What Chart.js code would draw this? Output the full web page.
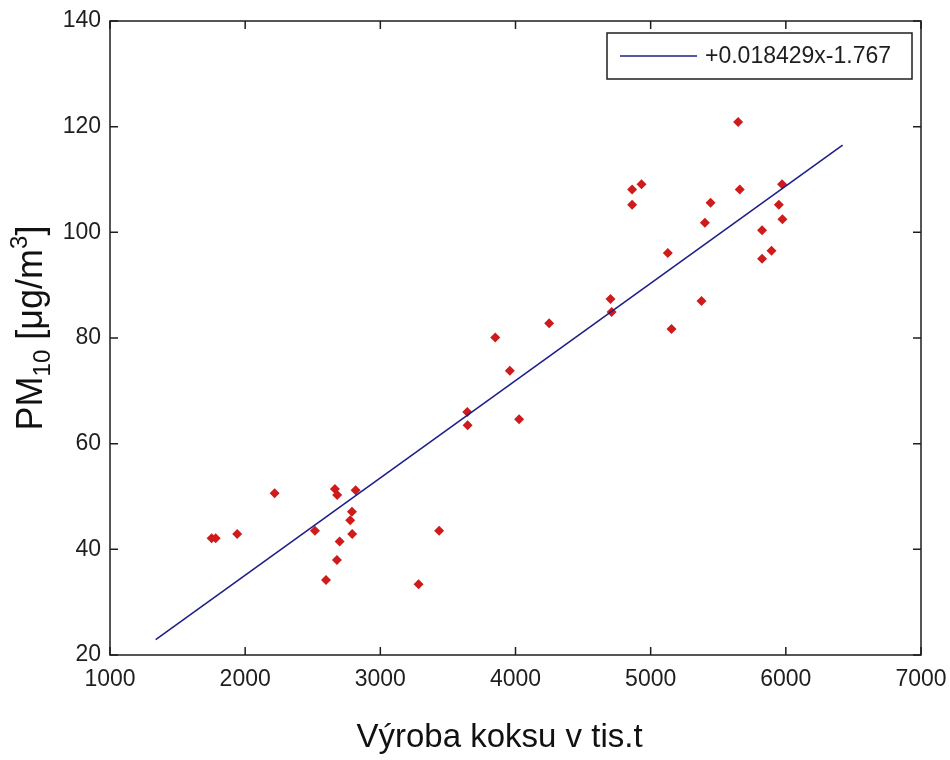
<!DOCTYPE html>
<html>
<head>
<meta charset="utf-8">
<title>PM10 vs. výroba koksu</title>
<script src="https://cdn.jsdelivr.net/npm/chart.js@4/dist/chart.umd.min.js"></script>
<style>
  html, body { margin: 0; padding: 0; background: #fff; }
  #wrap { width: 950px; height: 760px; }
</style>
</head>
<body>
<div id="wrap"><canvas id="chart" width="950" height="760"></canvas></div>
<script>
// ── Data ───────────────────────────────────────────────────────
const prodX = [1752, 1782, 1941, 2218, 2516, 2598, 2664, 2681, 2679, 2699,
  2777, 2790, 2792, 2817, 3283, 3435, 3643, 3646, 3850, 3958,
  4027, 4249, 4703, 4711, 4863, 4863, 4932, 5127, 5154, 5376,
  5401, 5443, 5647, 5659, 5824, 5824, 5894, 5948, 5972, 5975];
const pm10Y = [42.1, 42.1, 42.9, 50.6, 43.5, 34.2, 51.4, 50.3, 38.0, 41.5,
  45.5, 47.1, 42.9, 51.2, 33.4, 43.5, 66.0, 63.5, 80.1, 73.8,
  64.6, 82.8, 87.4, 84.9, 108.1, 105.2, 109.1, 96.1, 81.7, 87.0,
  101.8, 105.6, 120.9, 108.1, 100.4, 95.0, 96.5, 105.2, 109.1, 102.5];

// regression line end points (from legend: +0.018429x-1.767)
const fitX = [1338, 6420];
const fitY = [22.9, 116.5];
const fitLabel = '+0.018429x-1.767';

const xTicks = [1000, 2000, 3000, 4000, 5000, 6000, 7000];
const yTicks = [20, 40, 60, 80, 100, 120, 140];

const xTitle = 'Výroba koksu v tis.t';

// ── Helpers ────────────────────────────────────────────────────
const FONT = '"Liberation Sans", Arial, sans-serif';
const INK = '#1e1e1e';

// box + inward ticks on all four sides (MATLAB look)
const boxPlugin = {
  id: 'box',
  afterDraw(chart) {
    const { ctx, chartArea: a, scales } = chart;
    const len = 8;
    ctx.save();
    ctx.strokeStyle = INK;
    ctx.lineWidth = 1.5;
    ctx.strokeRect(a.left, a.top, a.right - a.left, a.bottom - a.top);
    ctx.beginPath();
    xTicks.forEach(v => {
      const px = scales.x.getPixelForValue(v);
      ctx.moveTo(px, a.bottom); ctx.lineTo(px, a.bottom - len);
      ctx.moveTo(px, a.top); ctx.lineTo(px, a.top + len);
    });
    yTicks.forEach(v => {
      const py = scales.y.getPixelForValue(v);
      ctx.moveTo(a.left, py); ctx.lineTo(a.left + len, py);
      ctx.moveTo(a.right, py); ctx.lineTo(a.right - len, py);
    });
    ctx.stroke();
    ctx.restore();
  },
};

// legend box in the top-right corner
const legendPlugin = {
  id: 'boxLegend',
  afterDraw(chart) {
    const { ctx } = chart;
    const ds = chart.data.datasets[0];
    const x0 = 607, y0 = 33, w = 305, h = 46;
    ctx.save();
    ctx.fillStyle = '#fff';
    ctx.fillRect(x0, y0, w, h);
    ctx.strokeStyle = INK;
    ctx.lineWidth = 1.5;
    ctx.strokeRect(x0, y0, w, h);
    ctx.strokeStyle = ds.borderColor;
    ctx.lineWidth = ds.borderWidth;
    ctx.beginPath();
    ctx.moveTo(620, y0 + h / 2);
    ctx.lineTo(697, y0 + h / 2);
    ctx.stroke();
    ctx.fillStyle = INK;
    ctx.font = '23px ' + FONT;
    ctx.textBaseline = 'middle';
    ctx.fillText(ds.label, 705, y0 + h / 2 + 1);
    ctx.restore();
  },
};

// axis titles; y title needs sub- and superscript
const titlesPlugin = {
  id: 'titles',
  afterDraw(chart) {
    const { ctx, chartArea: a } = chart;
    ctx.save();
    ctx.fillStyle = '#111';
    ctx.font = '33px ' + FONT;
    ctx.textAlign = 'center';
    ctx.textBaseline = 'alphabetic';
    ctx.fillText(xTitle, (a.left + a.right) / 2 - 16, 747);

    const big = '36px ' + FONT, small = '24px ' + FONT;
    const parts = [
      { t: 'PM', f: big, dy: 0 },
      { t: '10', f: small, dy: 8 },
      { t: ' [μg/m', f: big, dy: 0 },
      { t: '3', f: small, dy: -15 },
      { t: ']', f: big, dy: 0 },
    ];
    let total = 0;
    parts.forEach(p => { ctx.font = p.f; p.w = ctx.measureText(p.t).width; total += p.w; });
    ctx.translate(42, 328);
    ctx.rotate(-Math.PI / 2);
    ctx.textAlign = 'left';
    let cx = -total / 2;
    parts.forEach(p => {
      ctx.font = p.f;
      ctx.fillText(p.t, cx, p.dy);
      cx += p.w;
    });
    ctx.restore();
  },
};

// ── Chart ──────────────────────────────────────────────────────
const points = prodX.map((x, i) => ({ x, y: pm10Y[i] }));
const fitLine = fitX.map((x, i) => ({ x, y: fitY[i] }));

new Chart(document.getElementById('chart').getContext('2d'), {
  type: 'scatter',
  data: {
    datasets: [
      {
        type: 'line',
        label: fitLabel,
        data: fitLine,
        borderColor: '#1f1f8a',
        borderWidth: 1.6,
        pointRadius: 0,
        fill: false,
        tension: 0,
      },
      {
        label: 'data',
        data: points,
        pointStyle: 'rectRot',
        pointRadius: 5,
        backgroundColor: '#cf1b1b',
        borderColor: '#cf1b1b',
        borderWidth: 0,
      },
    ],
  },
  options: {
    responsive: false,
    animation: false,
    layout: { padding: { top: 21, right: 29, left: 0, bottom: 0 } },
    plugins: {
      legend: { display: false },
      tooltip: { enabled: false },
    },
    scales: {
      x: {
        type: 'linear',
        min: 1000,
        max: 7000,
        afterBuildTicks: s => { s.ticks = xTicks.map(v => ({ value: v })); },
        afterFit: s => { s.height = 105; s.paddingLeft = 0; s.paddingRight = 0; },
        grid: { display: false, drawTicks: false },
        border: { display: false },
        ticks: {
          autoSkip: false,
          maxRotation: 0,
          padding: 11,
          color: INK,
          font: { family: FONT, size: 23 },
          callback: v => String(v),
        },
      },
      y: {
        type: 'linear',
        min: 20,
        max: 140,
        afterBuildTicks: s => { s.ticks = yTicks.map(v => ({ value: v })); },
        afterFit: s => { s.width = 110; s.paddingTop = 0; s.paddingBottom = 0; },
        grid: { display: false, drawTicks: false },
        border: { display: false },
        ticks: {
          autoSkip: false,
          padding: 9,
          color: INK,
          font: { family: FONT, size: 23 },
          callback: v => String(v),
        },
      },
    },
  },
  plugins: [boxPlugin, legendPlugin, titlesPlugin],
});
</script>
</body>
</html>
